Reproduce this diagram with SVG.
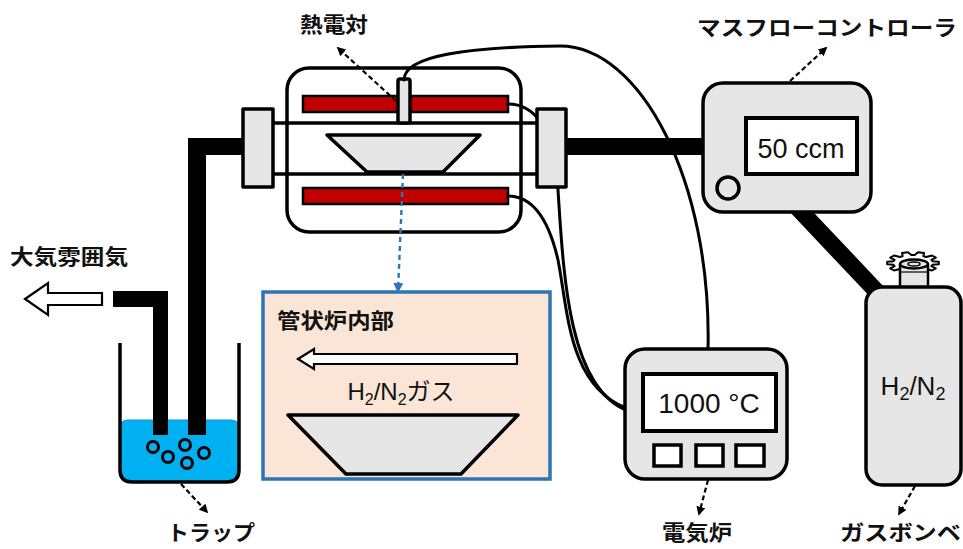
<svg xmlns="http://www.w3.org/2000/svg" width="963" height="549" viewBox="0 0 963 549">
  <defs>
    <style>
      .ol { stroke: #000; stroke-width: 3.5; stroke-linejoin: round; }
      .gray { fill: #E6E6E6; }
      .white { fill: #FFFFFF; }
      .heater { fill: #C00000; stroke: #000; stroke-width: 2.5; }
      .pipe { fill: #000; stroke: none; }
      .wire { fill: none; stroke: #000; stroke-width: 3; stroke-linecap: round; }
      .callout { fill: none; stroke: #000; stroke-width: 2.2; stroke-dasharray: 5 3; }
      .jp { font-family: "Noto Sans CJK JP", "Noto Sans", sans-serif; font-weight: 700; font-size: 21px; fill: #111; }
      .num { font-family: "Liberation Sans", "Noto Sans CJK JP", sans-serif; fill: #111; }
      .hollow { fill: #FFFFFF; stroke: #000; stroke-width: 2.2; stroke-linejoin: miter; }
    </style>
    <marker id="tip" viewBox="0 0 10 10" refX="8" refY="5" markerWidth="9" markerHeight="9" markerUnits="userSpaceOnUse" orient="auto">
      <path d="M0,0 L10,5 L0,10 Z" fill="#000"/>
    </marker>
    <marker id="tipBlue" viewBox="0 0 10 10" refX="8" refY="5" markerWidth="10" markerHeight="10" markerUnits="userSpaceOnUse" orient="auto">
      <path d="M0,0 L10,5 L0,10 Z" fill="#2E75B6"/>
    </marker>
  </defs>

  <rect width="963" height="549" fill="#FFFFFF"/>

  <!-- tube furnace body -->
  <g id="furnace">
    <rect x="287" y="68" width="234" height="164" rx="22" class="ol white" stroke-width="4"/>
    <rect x="303" y="96" width="205" height="16" class="heater"/>
    <rect x="303" y="188" width="205" height="16" class="heater"/>
    <line x1="273" y1="123" x2="537" y2="123" stroke="#000" stroke-width="3.5"/>
    <line x1="273" y1="174" x2="537" y2="174" stroke="#000" stroke-width="3.5"/>
    <rect x="398" y="79" width="12" height="44" rx="2" class="ol gray" stroke-width="2.5"/>
    <polygon points="327,135 480,135 443,172 367,172" class="ol gray"/>
  </g>

  <!-- cold trap -->
  <g id="trap">
    <path d="M120,343 V470 Q120,482 132,482 H227 Q239,482 239,470 V343" class="white"/>
    <path d="M120,428 Q120,420 128,420 H231 Q239,420 239,428 V470 Q239,482 227,482 H132 Q120,482 120,470 Z" fill="#00B0F0" stroke="#1B8CC4" stroke-width="1"/>
    <g fill="#00B0F0" stroke="#000" stroke-width="3">
      <circle cx="153" cy="447" r="5.5"/>
      <circle cx="168" cy="457" r="5.5"/>
      <circle cx="185" cy="445" r="5.5"/>
      <circle cx="187" cy="463" r="5.5"/>
      <circle cx="204" cy="453" r="5.5"/>
    </g>
    <path d="M120,343 V470 Q120,482 132,482 H227 Q239,482 239,470 V343" fill="none" class="ol"/>
  </g>

  <!-- gas lines, heater and thermocouple leads, callout arrows -->
  <g id="connectors">
    <polygon class="pipe" points="245,138 188,138 188,435 206,435 206,155 245,155"/>
    <polygon class="pipe" points="113,291 168,291 168,435 153,435 153,307 113,307"/>
    <rect class="pipe" x="560" y="138" width="145" height="17"/>
    <line x1="793" y1="203" x2="880" y2="295" stroke="#000" stroke-width="17"/>

    <path class="wire" d="M404,80 C404,55 470,47 560,46 C640,46 712,180 708,350"/>
    <path class="wire" d="M508,104 C535,104 553,130 557,175 C563,260 565,385 626,410"/>
    <path class="wire" d="M508,196 C535,196 550,225 558,260 C568,310 568,385 626,408"/>

    <polygon class="hollow" points="25,299 48,283 48,293 102,293 102,305 48,305 48,315"/>

    <line class="callout" x1="396" y1="101" x2="338" y2="48" marker-end="url(#tip)"/>
    <line class="callout" x1="790" y1="81" x2="826" y2="48" marker-end="url(#tip)"/>
    <line class="callout" x1="181" y1="484" x2="207" y2="512" marker-end="url(#tip)"/>
    <line class="callout" x1="708" y1="480" x2="699" y2="514" marker-end="url(#tip)"/>
    <line class="callout" x1="915" y1="486" x2="899" y2="514" marker-end="url(#tip)"/>
    <line x1="403" y1="174" x2="398" y2="291" fill="none" stroke="#2E75B6" stroke-width="2.4" stroke-dasharray="5 4" marker-end="url(#tipBlue)"/>
  </g>

  <!-- tube flanges -->
  <g id="flanges">
    <rect x="243" y="109" width="30" height="78" class="ol gray"/>
    <rect x="537" y="109" width="29" height="78" class="ol gray"/>
  </g>

  <!-- mass flow controller -->
  <g id="mfc">
    <rect x="703" y="83" width="168" height="129" rx="20" class="ol gray" stroke-width="4"/>
    <rect x="746" y="118" width="111" height="56" class="white" stroke="#000" stroke-width="4"/>
    <text x="801" y="158" text-anchor="middle" class="num" font-size="27">50 ccm</text>
    <circle cx="728" cy="188" r="11" class="ol gray"/>
  </g>

  <!-- gas cylinder -->
  <g id="cylinder">
    <polygon points="932.5,261.2 938.8,261.7 938.8,264.3 932.5,264.8 931.4,266.1 935.8,268.3 932,270.5 926.1,269 923.3,269.9 924,273 918,273.8 914.7,271 911.3,271 908,273.8 902,273 902.7,269.9 899.9,269 894,270.5 890.2,268.3 894.6,266.1 893.5,264.8 887.2,264.3 887.2,261.7 893.5,261.2 894.6,259.9 890.2,257.7 894,255.5 899.9,257 902.7,256.1 902,253 908,252.2 911.3,255 914.7,255 918,252.2 924,253 923.3,256.1 926.1,257 932,255.5 935.8,257.7 931.4,259.9" fill="#FFFFFF" stroke="#000" stroke-width="2" stroke-linejoin="round"/>
    <path d="M900,264 V288 H928 V264" class="gray" stroke="#000" stroke-width="2.5"/>
    <ellipse cx="914" cy="264" rx="14" ry="4.5" class="gray" stroke="#000" stroke-width="2.5"/>
    <ellipse cx="914" cy="264" rx="6" ry="2" fill="none" stroke="#000" stroke-width="1.5"/>
    <line x1="900" y1="272" x2="928" y2="272" stroke="#000" stroke-width="1.2"/>
    <rect x="866" y="287" width="95" height="198" rx="16" class="ol gray" stroke-width="4"/>
    <text x="913" y="395" text-anchor="middle" class="num" font-size="26">H<tspan font-size="18" dy="5">2</tspan><tspan dy="-5">/N</tspan><tspan font-size="18" dy="5">2</tspan></text>
  </g>

  <!-- furnace temperature controller -->
  <g id="controller">
    <rect x="625" y="349" width="162" height="130" rx="20" class="ol gray" stroke-width="4"/>
    <rect x="643" y="374" width="133" height="57" class="white" stroke="#000" stroke-width="4"/>
    <text x="709" y="413" text-anchor="middle" class="num" font-size="28">1000 °C</text>
    <rect x="654" y="445" width="27" height="21" class="white" stroke="#000" stroke-width="3.5"/>
    <rect x="696" y="445" width="27" height="21" class="white" stroke="#000" stroke-width="3.5"/>
    <rect x="736" y="445" width="28" height="21" class="white" stroke="#000" stroke-width="3.5"/>
  </g>

  <!-- inside-the-tube detail view -->
  <g id="detail">
    <rect x="263" y="292" width="287" height="187" fill="#FBE5D6" stroke="#2E75B6" stroke-width="3.5"/>
    <text x="277" y="328" class="jp" textLength="117" lengthAdjust="spacingAndGlyphs">管状炉内部</text>
    <polygon class="hollow" points="298,359 314,349 314,354 517,354 517,364 314,364 314,369"/>
    <text x="401" y="400" text-anchor="middle" class="num" font-size="24">H<tspan font-size="16" dy="5">2</tspan><tspan dy="-5">/N</tspan><tspan font-size="16" dy="5">2</tspan><tspan dy="-5">ガス</tspan></text>
    <polygon points="288,415 518,415 461,474 346,474" class="ol gray" stroke-width="4"/>
  </g>

  <!-- labels -->
  <g id="labels">
    <text x="300" y="32" class="jp" textLength="68" lengthAdjust="spacingAndGlyphs">熱電対</text>
    <text x="697" y="35" class="jp" textLength="260" lengthAdjust="spacingAndGlyphs">マスフローコントローラ</text>
    <text x="10" y="264" class="jp" textLength="118" lengthAdjust="spacingAndGlyphs">大気雰囲気</text>
    <text x="167" y="540" class="jp" textLength="88" lengthAdjust="spacingAndGlyphs">トラップ</text>
    <text x="662" y="540" class="jp" textLength="70" lengthAdjust="spacingAndGlyphs">電気炉</text>
    <text x="840" y="540" class="jp" textLength="121" lengthAdjust="spacingAndGlyphs">ガスボンベ</text>
  </g>
</svg>
